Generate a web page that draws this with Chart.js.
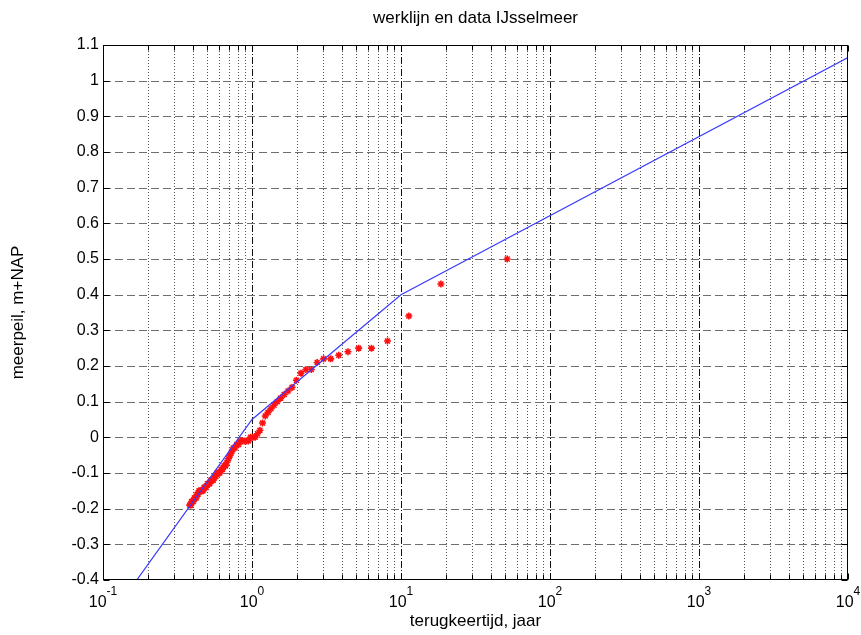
<!DOCTYPE html>
<html>
<head>
<meta charset="utf-8">
<script src="https://cdn.jsdelivr.net/npm/chart.js@4.4.0/dist/chart.umd.min.js"></script>
<style>
  html, body { margin: 0; padding: 0; background: #fff; }
  #wrap { width: 861px; height: 635px; }
</style>
</head>
<body>
<div id="wrap"><canvas id="chart" width="861" height="635"></canvas></div>
<script>
// Axis ticks
const xMajorTicks = [0.1, 1, 10, 100, 1000, 10000];
const xTickExponents = ['-1', '0', '1', '2', '3', '4'];
const yTicks = [-0.4, -0.3, -0.2, -0.1, 0, 0.1, 0.2, 0.3, 0.4, 0.5, 0.6, 0.7, 0.8, 0.9, 1, 1.1];

// Werklijn (return period in years vs lake level)
const lineT = [0.1, 1, 10, 10000];
const lineLevel = [-0.532, 0.05, 0.40, 1.065];

// Data points
const dataT = [
    51.61, 18.53, 11.29, 8.118, 6.338, 5.198, 4.405, 3.823, 3.376, 3.023,
    2.737, 2.500, 2.301, 2.131, 1.985, 1.857, 1.745, 1.646, 1.557, 1.478,
    1.406, 1.340, 1.281, 1.227, 1.177, 1.131, 1.088, 1.049, 1.012, 0.978,
    0.946, 0.916, 0.888, 0.861, 0.836, 0.813, 0.790, 0.769, 0.749, 0.731,
    0.713, 0.695, 0.679, 0.663, 0.649, 0.634, 0.621, 0.608, 0.595, 0.583,
    0.572, 0.561, 0.550, 0.540, 0.530, 0.520, 0.511, 0.502, 0.494, 0.485,
    0.477, 0.469, 0.462, 0.455, 0.448, 0.441, 0.434, 0.428, 0.422, 0.415,
    0.410, 0.404, 0.398, 0.393, 0.388, 0.382
];
const dataLevel = [
    0.50, 0.43, 0.34, 0.27, 0.25, 0.25, 0.24, 0.23, 0.22, 0.22,
    0.21, 0.19, 0.19, 0.18, 0.16, 0.14, 0.13, 0.12, 0.11, 0.10,
    0.09, 0.08, 0.07, 0.06, 0.04, 0.02, 0.01, 0.00, 0.00, 0.00,
    -0.01, -0.01, -0.01, -0.01, -0.01, -0.02, -0.02, -0.03, -0.03, -0.04,
    -0.05, -0.06, -0.07, -0.08, -0.08, -0.09, -0.09, -0.10, -0.10, -0.10,
    -0.11, -0.11, -0.12, -0.12, -0.12, -0.13, -0.13, -0.13, -0.14, -0.14,
    -0.14, -0.15, -0.15, -0.15, -0.15, -0.15, -0.16, -0.16, -0.17, -0.17,
    -0.17, -0.18, -0.18, -0.18, -0.19, -0.19
];

const FONT = '"Liberation Sans", Arial, sans-serif';

const strokeLine = (ctx, x1, y1, x2, y2) => {
    ctx.beginPath();
    ctx.moveTo(x1, y1);
    ctx.lineTo(x2, y2);
    ctx.stroke();
};

// all x grid positions: 1..9 in every decade
const xGridValues = () => {
    const vals = [];
    xMajorTicks.slice(0, -1).forEach(d => {
        for (let k = 1; k <= 9; k++) vals.push(d * k);
    });
    vals.push(xMajorTicks[xMajorTicks.length - 1]);
    return vals;
};

// matlab-style grid, frame, inner ticks and 10^n labels
const matlabAxes = {
    id: 'matlabAxes',
    beforeDatasetsDraw(chart) {
        const { ctx, chartArea: a, scales: { x, y } } = chart;
        ctx.save();
        ctx.lineWidth = 1;

        // minor verticals, dotted
        ctx.strokeStyle = '#555';
        ctx.setLineDash([1, 2]);
        xGridValues().forEach(v => {
            if (xMajorTicks.includes(v)) return;
            const px = Math.round(x.getPixelForValue(v)) + 0.5;
            strokeLine(ctx, px, a.top, px, a.bottom);
        });

        // decade verticals, dash-dot
        ctx.strokeStyle = '#111';
        ctx.setLineDash([7, 2, 1, 2]);
        xMajorTicks.slice(1, -1).forEach(v => {
            const px = Math.round(x.getPixelForValue(v)) + 0.5;
            strokeLine(ctx, px, a.top, px, a.bottom);
        });

        // horizontals, dashed
        ctx.strokeStyle = '#6e6e6e';
        ctx.setLineDash([8, 4]);
        yTicks.slice(1, -1).forEach(v => {
            const py = Math.round(y.getPixelForValue(v)) + 0.5;
            strokeLine(ctx, a.left, py, a.right, py);
        });
        ctx.restore();
    },
    afterDraw(chart) {
        const { ctx, chartArea: a, scales: { x, y } } = chart;
        ctx.save();
        ctx.strokeStyle = '#000';
        ctx.lineWidth = 1;
        ctx.setLineDash([]);

        const L = Math.round(a.left) + 0.5, R = Math.round(a.right) - 0.5;
        const T = Math.round(a.top) + 0.5, B = Math.round(a.bottom) - 0.5;

        // inner tick marks
        xGridValues().forEach(v => {
            const px = Math.round(x.getPixelForValue(v)) + 0.5;
            const len = xMajorTicks.includes(v) ? 6 : 5;
            strokeLine(ctx, px, B, px, B - len);
            strokeLine(ctx, px, T, px, T + len);
        });
        yTicks.forEach(v => {
            const py = Math.round(y.getPixelForValue(v)) + 0.5;
            strokeLine(ctx, L, py, L + 6, py);
            strokeLine(ctx, R, py, R - 6, py);
        });

        // frame
        ctx.strokeRect(L, T, R - L, B - T);

        // 10^n tick labels
        ctx.fillStyle = '#000';
        ctx.textBaseline = 'alphabetic';
        ctx.textAlign = 'left';
        xMajorTicks.forEach((v, i) => {
            const px = x.getPixelForValue(v);
            ctx.font = '16px ' + FONT;
            const wBase = ctx.measureText('10').width;
            ctx.font = '12px ' + FONT;
            const wExp = ctx.measureText(xTickExponents[i]).width;
            const start = px - (wBase + wExp) / 2;
            ctx.font = '16px ' + FONT;
            ctx.fillText('10', start, a.bottom + 27);
            ctx.font = '12px ' + FONT;
            ctx.fillText(xTickExponents[i], start + wBase, a.bottom + 15);
        });
        ctx.restore();
    }
};

const ctx = document.getElementById('chart').getContext('2d');
new Chart(ctx, {
    type: 'scatter',
    data: {
        datasets: [
            {
                label: 'werklijn',
                data: lineT.map((t, i) => ({ x: t, y: lineLevel[i] })),
                showLine: true,
                borderColor: '#3b3bff',
                borderWidth: 1.2,
                pointRadius: 0,
                fill: false,
                order: 1
            },
            {
                label: 'data',
                data: dataT.map((t, i) => ({ x: t, y: dataLevel[i] })),
                pointStyle: 'star',
                pointRadius: 3.5,
                borderColor: '#ff1010',
                backgroundColor: '#ff1010',
                borderWidth: 1.6,
                order: 2
            }
        ]
    },
    options: {
        responsive: false,
        animation: false,
        events: [],
        layout: { padding: { left: 0, right: 13, top: 0, bottom: 0 } },
        plugins: {
            legend: { display: false },
            tooltip: { enabled: false },
            title: {
                display: true,
                text: 'werklijn en data IJsselmeer',
                fullSize: false,
                color: '#000',
                font: { family: FONT, size: 17, weight: 'normal' },
                padding: { top: 8, bottom: 16.6 }
            }
        },
        scales: {
            x: {
                type: 'logarithmic',
                min: 0.1,
                max: 10000,
                grid: { display: false, drawTicks: false },
                border: { display: false },
                ticks: { display: false },
                afterFit: s => { s.height = 55; },
                title: {
                    display: true,
                    text: 'terugkeertijd, jaar',
                    color: '#000',
                    font: { family: FONT, size: 17 },
                    padding: { top: 0, bottom: 3 }
                }
            },
            y: {
                type: 'linear',
                min: -0.4,
                max: 1.1,
                afterBuildTicks: s => { s.ticks = yTicks.map(v => ({ value: v })); },
                grid: { display: false, drawTicks: false },
                border: { display: false },
                ticks: {
                    color: '#000',
                    font: { family: FONT, size: 16 },
                    padding: 4,
                    callback: v => String(Number(v.toFixed(1)))
                },
                afterFit: s => { s.width = 103; },
                title: {
                    display: true,
                    text: 'meerpeil, m+NAP',
                    color: '#000',
                    font: { family: FONT, size: 17 },
                    padding: { top: 8, bottom: 0 }
                }
            }
        }
    },
    plugins: [matlabAxes]
});
</script>
</body>
</html>
